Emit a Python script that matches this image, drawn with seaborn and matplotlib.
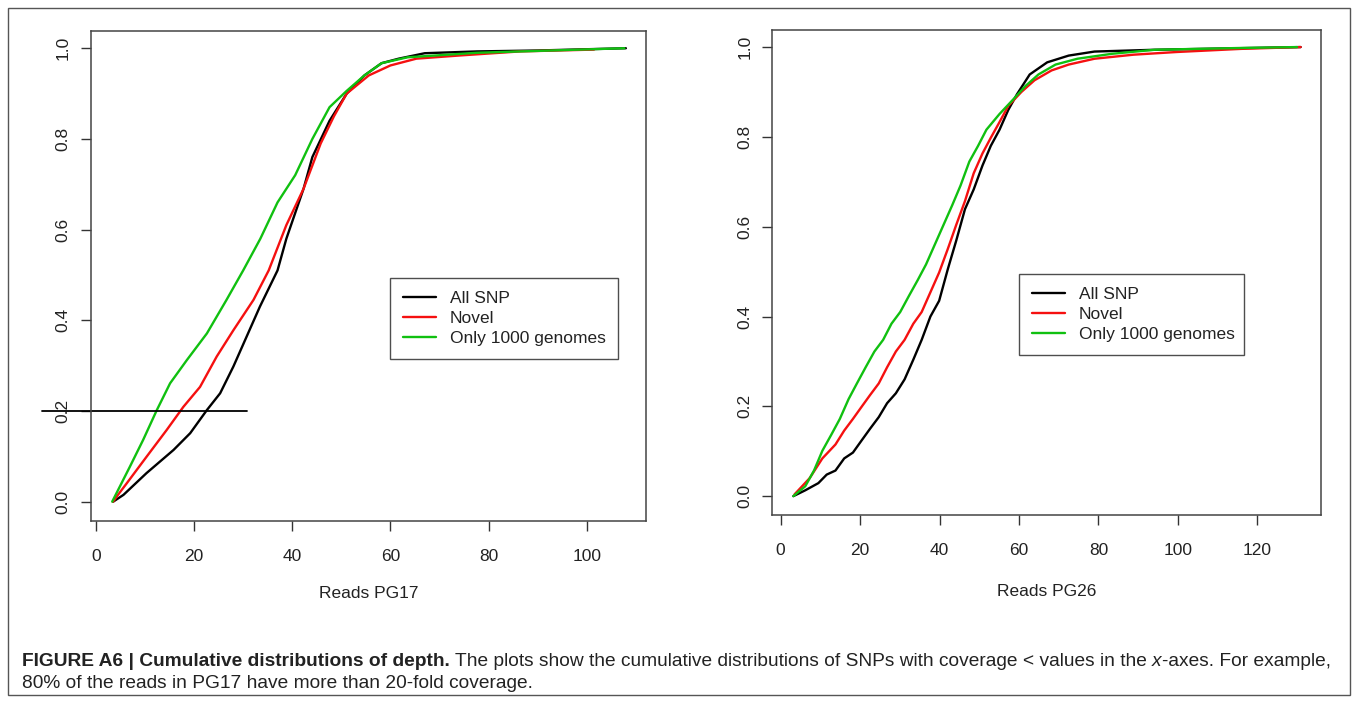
import matplotlib
matplotlib.use("Agg")
import matplotlib.pyplot as plt
import seaborn as sns
import pandas as pd
from matplotlib.patches import Rectangle
from matplotlib.lines import Line2D

# ---------------- data ----------------
series_names = ["All SNP", "Novel", "Only 1000 genomes"]
series_colors = ["#000000", "#F51010", "#10C010"]

pg17_all_x = [3.5, 5.6, 10.3, 15.8, 19.2, 22.6, 25.3, 28, 30.7, 33.4, 37, 38.8, 42.3, 44.1, 47.6,
              51.1, 54.7, 58.2, 61.7, 67, 77.7, 90, 108]
pg17_all_y = [0, 0.015, 0.063, 0.114, 0.151, 0.202, 0.239, 0.298, 0.364, 0.43, 0.51, 0.58, 0.69, 0.76,
              0.84, 0.90, 0.94, 0.967, 0.977, 0.989, 0.993, 0.995, 1.0]
pg17_novel_x = [3.5, 4.2, 6.3, 10.3, 14.4, 17.8, 21.2, 24.6, 28, 32.1, 35.2, 38.8, 42.3, 45.8, 48.5,
                51.1, 55.6, 60, 65.3, 74.1, 86.5, 101.5]
pg17_novel_y = [0, 0.011, 0.041, 0.099, 0.158, 0.209, 0.253, 0.32, 0.378, 0.445, 0.51, 0.61, 0.69, 0.79,
                0.85, 0.90, 0.94, 0.962, 0.977, 0.984, 0.993, 0.997]
pg17_1000g_x = [3.3, 6.9, 9.6, 12.4, 15.1, 18.5, 22.6, 26.6, 30, 33.5, 37, 40.6, 44.1, 47.6, 51.1,
                54.7, 58.2, 63.5, 77.7, 107.7]
pg17_1000g_y = [0, 0.077, 0.136, 0.202, 0.261, 0.312, 0.371, 0.445, 0.51, 0.58, 0.66, 0.72, 0.80, 0.87,
                0.906, 0.94, 0.967, 0.98, 0.99, 1.0]

pg26_all_x = [3.2, 6.2, 9.5, 11.6, 13.8, 16, 18.2, 20.3, 22.5, 24.7, 26.8, 29, 31.2, 33.4, 35.5, 37.7,
              39.9, 42.1, 44.2, 46.4, 48.6, 50.8, 52.9, 55.1, 57.3, 59.5, 62.7, 67.1, 72.5, 79, 94.2, 130.9]
pg26_all_y = [0, 0.013, 0.029, 0.048, 0.057, 0.084, 0.097, 0.123, 0.15, 0.176, 0.207, 0.229, 0.26, 0.304,
              0.348, 0.40, 0.435, 0.506, 0.569, 0.639, 0.683, 0.736, 0.78, 0.816, 0.86, 0.895, 0.939,
              0.966, 0.981, 0.99, 0.994, 1.0]
pg26_novel_x = [3.5, 7.3, 10.5, 13.8, 16, 18.2, 20.3, 22.5, 24.7, 26.8, 29, 31.2, 33.4, 35.5, 37.7, 39.9,
                42.1, 44.2, 46.4, 48.6, 50.8, 52.9, 55.1, 57.3, 60.6, 63.9, 68.2, 72.5, 79, 88.8, 99.7,
                116, 130.9]
pg26_novel_y = [0.004, 0.04, 0.084, 0.115, 0.146, 0.172, 0.198, 0.225, 0.251, 0.287, 0.322, 0.348, 0.384,
                0.41, 0.454, 0.498, 0.551, 0.604, 0.657, 0.719, 0.763, 0.798, 0.833, 0.869, 0.90, 0.926,
                0.948, 0.961, 0.974, 0.983, 0.989, 0.996, 1.0]
pg26_1000g_x = [3.2, 6.2, 8.4, 10.5, 12.7, 14.9, 17.1, 19.2, 21.4, 23.6, 25.8, 27.9, 30.1, 32.3, 34.5,
                36.6, 38.8, 41, 43.2, 45.3, 47.5, 49.7, 51.8, 55.1, 58.4, 61.6, 64.9, 69.2, 74.7, 83.4,
                94.2, 116, 130]
pg26_1000g_y = [0, 0.022, 0.057, 0.101, 0.136, 0.172, 0.216, 0.251, 0.287, 0.322, 0.348, 0.384, 0.41,
                0.446, 0.481, 0.516, 0.56, 0.604, 0.648, 0.692, 0.745, 0.78, 0.816, 0.851, 0.882, 0.913,
                0.939, 0.961, 0.974, 0.985, 0.994, 0.998, 1.0]

pg17_xticks = [0, 20, 40, 60, 80, 100]
pg26_xticks = [0, 20, 40, 60, 80, 100, 120]
y_ticks = [0.0, 0.2, 0.4, 0.6, 0.8, 1.0]
x_labels = ["Reads PG17", "Reads PG26"]

ref_line_y = 0.2
ref_line_x = [-11, 30.8]

caption_bold = "FIGURE A6 | Cumulative distributions of depth."
caption_line1 = " The plots show the cumulative distributions of SNPs with coverage < values in the "
caption_italic = "x"
caption_line1_end = "-axes. For example,"
caption_line2 = "80% of the reads in PG17 have more than 20-fold coverage."

# ---------------- style ----------------
sns.set_theme(style="white")
plt.rcParams["font.family"] = ["Liberation Sans", "DejaVu Sans"]
TXT = "#222222"

W, H = 1358, 703
fig = plt.figure(figsize=(W / 100, H / 100), dpi=100)
fig.patch.set_facecolor("white")

def make_df(xs, ys):
    frames = []
    for name, x, y in zip(series_names, xs, ys):
        frames.append(pd.DataFrame({"reads": x, "frac": y, "set": name}))
    return pd.concat(frames, ignore_index=True)

panels = [
    dict(rect=[90.7 / W, 1 - 520.7 / H, (646 - 90.7) / W, (520.7 - 31) / H],
         df=make_df([pg17_all_x, pg17_novel_x, pg17_1000g_x], [pg17_all_y, pg17_novel_y, pg17_1000g_y]),
         xlim=(-1.08, 112.1), xticks=pg17_xticks, xlabel=x_labels[0], xlab_y=-0.148,
         legend_bbox=(390, 276, 618, 361)),
    dict(rect=[772.3 / W, 1 - 515 / H, (1321.3 - 772.3) / W, (515 - 30) / H],
         df=make_df([pg26_all_x, pg26_novel_x, pg26_1000g_x], [pg26_all_y, pg26_novel_y, pg26_1000g_y]),
         xlim=(-2.1, 136.1), xticks=pg26_xticks, xlabel=x_labels[1], xlab_y=-0.157,
         legend_bbox=(1019, 272, 1244, 357)),
]

pal = dict(zip(series_names, series_colors))

for i, p in enumerate(panels):
    ax = fig.add_axes(p["rect"])
    sns.lineplot(data=p["df"], x="reads", y="frac", hue="set", palette=pal, hue_order=series_names,
                 estimator=None, sort=False, linewidth=1.7, ax=ax, legend=False)
    ax.set_xlim(*p["xlim"])
    ax.set_ylim(-0.042, 1.038)
    ax.set_xticks(p["xticks"])
    ax.set_xticklabels([str(t) for t in p["xticks"]])
    ax.set_yticks(y_ticks)
    ax.set_yticklabels([f"{t:.1f}" for t in y_ticks], rotation=90, va="center", ha="right")
    ax.tick_params(axis="both", which="major", direction="out", length=7.5, width=1.0,
                   color="#333333", labelsize=12.5, labelcolor=TXT,
                   bottom=True, left=True)
    ax.tick_params(axis="x", pad=13)
    ax.tick_params(axis="y", pad=7)
    for s in ax.spines.values():
        s.set_color("#444444")
        s.set_linewidth(1.1)
        s.set_visible(True)
    ax.set_xlabel(p["xlabel"], fontsize=12.5, color=TXT, va="center")
    ax.xaxis.set_label_coords(0.5, p["xlab_y"])
    ax.set_ylabel("")
    ax.grid(False)

    # legend box (R style)
    x0, y0, x1, y1 = p["legend_bbox"]
    handles = [Line2D([], [], color=c, lw=1.7) for c in series_colors]
    bbox = (x0 / W, 1 - y1 / H, (x1 - x0) / W, (y1 - y0) / H)
    leg = ax.legend(handles, series_names, loc="center left", bbox_to_anchor=bbox,
                    bbox_transform=fig.transFigure, mode="expand", frameon=True, fancybox=False,
                    edgecolor="#222222", fontsize=12.5, handlelength=1.9, handletextpad=0.8,
                    labelspacing=0.27, borderpad=0.75, borderaxespad=0)
    leg.get_frame().set_linewidth(1.0)
    for t in leg.get_texts():
        t.set_color(TXT)

    if i == 0:
        ax.plot(ref_line_x, [ref_line_y, ref_line_y], color="black", lw=1.3, clip_on=False)

# figure border
fig.add_artist(Rectangle((8 / W, 1 - 695 / H), (1350 - 8) / W, (695 - 7.5) / H,
                         transform=fig.transFigure, fill=False, edgecolor="#555555", lw=1.0))

# caption
cap_fam = ["Liberation Sans Narrow", "Liberation Sans", "DejaVu Sans"]
renderer = fig.canvas.get_renderer()

def place_line(pieces, x_start, y_center, size):
    arts = []
    x = x_start
    for txt, weight, style in pieces:
        t = fig.text(x / W, 1 - y_center / H, txt, fontsize=size, fontweight=weight, fontstyle=style,
                     family=cap_fam, color="#222222", va="center", ha="left")
        bb = t.get_window_extent(renderer=renderer)
        x += bb.width
        arts.append(t)
    return arts, x - x_start

line1 = [(caption_bold, "bold", "normal"), (caption_line1, "normal", "normal"),
         (caption_italic, "normal", "italic"), (caption_line1_end, "normal", "normal")]
base = 10.0
arts, wid = place_line(line1, 22, 662, base)
for a in arts:
    a.remove()
size = base * (1309 / wid)
place_line(line1, 22, 662, size)
place_line([(caption_line2, "normal", "normal")], 22, 683, size)

fig.savefig("out.png", dpi=100, facecolor="white")
